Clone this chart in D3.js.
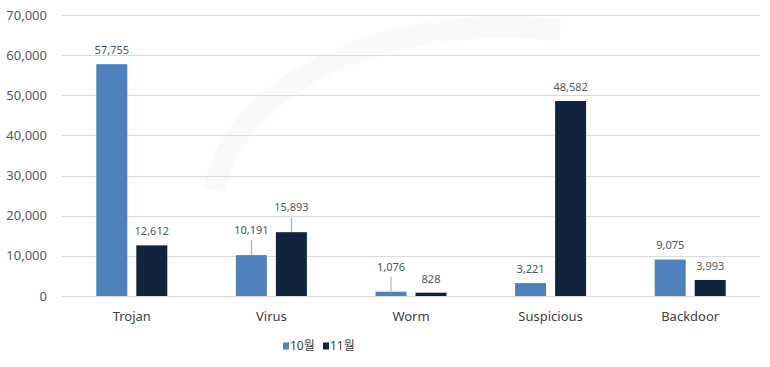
<!DOCTYPE html>
<html>
<head>
  <meta charset="utf-8">
  <title>Malware by type</title>
  <script src="https://d3js.org/d3.v7.min.js"></script>
  <style>
    body { margin: 0; padding: 0; background: #ffffff; }
    svg { font-family: "Noto Sans", "Noto Sans CJK KR", sans-serif; display: block; }
    .grid line { stroke: #d9d9d9; stroke-width: 1px; }
    .ytick text { font-size: 13px; fill: #595959; text-anchor: end; }
    .xtick text { font-size: 13px; fill: #404040; text-anchor: middle; }
    .val { font-size: 11px; text-anchor: middle; }
  </style>
</head>
<body>
<div id="chart"></div>
<script>
  // data
  var categories = ["Trojan", "Virus", "Worm", "Suspicious", "Backdoor"];
  var seriesNames = ["10월", "11월"];
  var oct = [57755, 10191, 1076, 3221, 9075];
  var nov = [12612, 15893, 828, 48582, 3993];
  var yTicks = [0, 10000, 20000, 30000, 40000, 50000, 60000, 70000];

  // labels that sit higher with a leader line
  var raised = { "Virus|0": true, "Virus|1": true, "Worm|0": true };

  var width = 770, height = 367;
  var margin = { left: 62, right: 10, top: 15, bottom: 71 };

  var svg = d3.select("#chart").append("svg")
    .attr("width", width)
    .attr("height", height);

  var colors = ["#4f81bd", "#12233f"];
  var labelColors = ["#44546a", "#595959"];

  // faint watermark swoosh
  svg.append("path")
    .attr("d", "M 215 190 C 230 90, 380 10, 560 30")
    .attr("fill", "none").attr("stroke", "#fafafa").attr("stroke-width", 22);

  var y = d3.scaleLinear()
    .domain([0, 70000])
    .range([height - margin.bottom, margin.top]);

  var x0 = d3.scaleBand()
    .domain(categories)
    .range([margin.left, width - margin.right]);

  var x1 = d3.scaleBand()
    .domain([0, 1])
    .range([0, 71])
    .paddingInner(0.225)
    .paddingOuter(0);

  // gridlines
  var grid = svg.append("g").attr("class", "grid");
  grid.selectAll("line")
    .data(yTicks)
    .enter().append("line")
      .attr("x1", margin.left)
      .attr("x2", width - margin.right)
      .attr("y1", function(d) { return Math.round(y(d)) + 0.5; })
      .attr("y2", function(d) { return Math.round(y(d)) + 0.5; });

  var yt = svg.append("g").attr("class", "ytick");
  yt.selectAll("text")
    .data(yTicks)
    .enter().append("text")
      .attr("x", 47)
      .attr("y", function(d) { return y(d); })
      .attr("dy", "0.35em")
      .text(function(d) { return d3.format(",")(d); });

  var rows = categories.map(function(c, i) {
    return { cat: c, vals: [oct[i], nov[i]] };
  });

  var groups = svg.selectAll(".cat")
    .data(rows)
    .enter().append("g")
      .attr("class", "cat")
      .attr("transform", function(d) {
        return "translate(" + (x0(d.cat) + x0.bandwidth() / 2 - 35.5) + ",0)";
      });

  var cells = groups.selectAll(".cell")
    .data(function(d) {
      return d.vals.map(function(v, s) { return { cat: d.cat, s: s, v: v }; });
    })
    .enter().append("g").attr("class", "cell");

  cells.append("rect")
    .attr("x", function(d) { return x1(d.s); })
    .attr("y", function(d) { return y(d.v); })
    .attr("width", x1.bandwidth())
    .attr("height", function(d) { return y(0) - y(d.v); })
    .attr("fill", function(d) { return colors[d.s]; });

  function labelY(d) {
    return y(d.v) - (raised[d.cat + "|" + d.s] ? 25 : 14);
  }

  cells.filter(function(d) { return raised[d.cat + "|" + d.s]; })
    .append("line")
      .attr("x1", function(d) { return x1(d.s) + x1.bandwidth() / 2; })
      .attr("x2", function(d) { return x1(d.s) + x1.bandwidth() / 2; })
      .attr("y1", function(d) { return labelY(d) + 10; })
      .attr("y2", function(d) { return y(d.v); })
      .attr("stroke", "#a6a6a6")
      .attr("stroke-width", 1);

  cells.append("text")
    .attr("class", "val")
    .attr("x", function(d) { return x1(d.s) + x1.bandwidth() / 2; })
    .attr("y", labelY)
    .attr("dy", "0.35em")
    .attr("fill", function(d) { return labelColors[d.s]; })
    .text(function(d) { return d3.format(",")(d.v); });

  var xt = svg.append("g").attr("class", "xtick");
  xt.selectAll("text")
    .data(categories)
    .enter().append("text")
      .attr("x", function(d) { return x0(d) + x0.bandwidth() / 2; })
      .attr("y", 316)
      .attr("dy", "0.35em")
      .text(function(d) { return d; });

  // legend
  var legend = svg.append("g").attr("transform", "translate(283,346)");
  var items = legend.selectAll("g")
    .data(seriesNames)
    .enter().append("g")
      .attr("transform", function(d, i) { return "translate(" + (i * 40) + ",0)"; });
  items.append("rect")
    .attr("x", 0).attr("y", -3.5)
    .attr("width", 6).attr("height", 7)
    .attr("fill", function(d, i) { return colors[i]; });
  items.append("text")
    .attr("x", 7).attr("y", 0)
    .attr("dy", "0.35em")
    .attr("font-size", 12)
    .attr("fill", "#404040")
    .text(function(d) { return d; });
</script>
</body>
</html>
